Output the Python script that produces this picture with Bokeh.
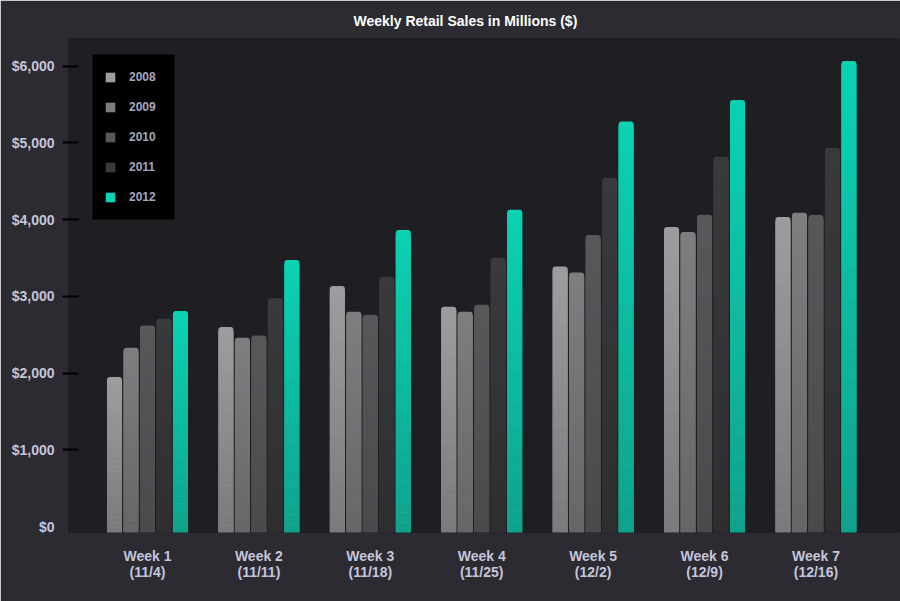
import numpy as np
from bokeh.plotting import figure
from bokeh.models import (FixedTicker, NumeralTickFormatter, Legend, LegendItem,
                          BoxAnnotation, ColumnDataSource, Range1d)
from bokeh.embed import file_html
from bokeh.resources import INLINE

# ---- data ----
week_labels = ["Week 1\n(11/4)", "Week 2\n(11/11)", "Week 3\n(11/18)", "Week 4\n(11/25)",
               "Week 5\n(12/2)", "Week 6\n(12/9)", "Week 7\n(12/16)"]
years = ["2008", "2009", "2010", "2011", "2012"]
sales_2008 = [1950, 2600, 3135, 2865, 3390, 3905, 4035]
sales_2009 = [2330, 2460, 2800, 2800, 3310, 3840, 4090]
sales_2010 = [2620, 2490, 2760, 2890, 3800, 4065, 4060]
sales_2011 = [2710, 2975, 3255, 3505, 4545, 4820, 4935]
sales_2012 = [2810, 3475, 3865, 4130, 5280, 5560, 6070]
y_ticks = [0, 1000, 2000, 3000, 4000, 5000, 6000]

series = [sales_2008, sales_2009, sales_2010, sales_2011, sales_2012]
top_colors = ["#9d9d9f", "#7e7e80", "#58585b", "#3a3a3d", "#0ad2b2"]
bottom_colors = ["#7a7a7c", "#666668", "#4a4a4d", "#2e2e31", "#10a28b"]

BG = "#2b2b31"
FRAME_BG = "#1f1f23"
TXT = "#c5c5dc"

y_start, y_end = -78, 6362
x_start, x_end = -0.709, 6.759
bar_w = 0.135
stride = 0.148

p = figure(width=900, height=601, output_backend="svg", toolbar_location=None, tools="",
           x_range=Range1d(x_start, x_end), y_range=Range1d(y_start, y_end),
           min_border_left=68, min_border_right=0, min_border_top=38, min_border_bottom=69,
           title="Weekly Retail Sales in Millions ($)")
p.background_fill_color = FRAME_BG
p.border_fill_color = BG
p.outline_line_color = FRAME_BG
p.outline_line_width = 1
p.xgrid.grid_line_color = None
p.ygrid.grid_line_color = None

p.title.align = "left"
p.title.offset = 285
p.title.text_font = "Liberation Sans"
p.title.text_font_style = "bold"
p.title.text_font_size = "14px"
p.title.text_color = "#ffffff"
p.title.standoff = 19


def hex2rgb(h):
    h = h.lstrip("#")
    return np.array([int(h[i:i + 2], 16) for i in (0, 2, 4)], dtype=float)


def rgb2hex(c):
    return "#%02x%02x%02x" % tuple(int(round(v)) for v in c)


N = 30
top_eps = 52  # keep rounded top of base bar visible
legend_items = []
for si, (vals, tc, bc, yr) in enumerate(zip(series, top_colors, bottom_colors, years)):
    xs = [i + (si - 2) * stride for i in range(len(vals))]
    src = ColumnDataSource(dict(x=xs, top=vals))
    r = p.vbar(x="x", top="top", bottom=y_start, width=bar_w, source=src,
               fill_color=tc, line_color=None, border_radius=(3, 3, 0, 0))
    legend_items.append(LegendItem(label=yr, renderers=[r]))
    # gradient slices
    t_rgb, b_rgb = hex2rgb(tc), hex2rgb(bc)
    L, R, T, B, C = [], [], [], [], []
    for x, v in zip(xs, vals):
        edges = np.linspace(y_start, v - top_eps, N + 1)
        for k in range(N):
            f = (k + 0.5) / N
            L.append(x - bar_w / 2)
            R.append(x + bar_w / 2)
            B.append(edges[k])
            T.append(edges[k + 1] + 1)
            C.append(rgb2hex(b_rgb + (t_rgb - b_rgb) * f))
    p.quad(left=L, right=R, top=T, bottom=B, fill_color=C, line_color=None)

# legend box (black background)
legend_box = BoxAnnotation(left=24, right=106, top=478, bottom=313,
                           left_units="screen", right_units="screen",
                           top_units="screen", bottom_units="screen",
                           fill_color="#000000", fill_alpha=1.0, line_color=None,
                           level="annotation")
p.add_layout(legend_box)

legend = Legend(items=legend_items, location=(36, 328), orientation="vertical",
                background_fill_alpha=0.0,
                border_line_color=None, padding=0, spacing=16, margin=0,
                glyph_width=12, glyph_height=12, label_height=12, label_standoff=13,
                label_text_font="Liberation Sans", label_text_font_style="bold",
                label_text_font_size="12px", label_text_color="#a6a6be")
p.add_layout(legend)

# axes
xa = p.xaxis[0]
xa.ticker = FixedTicker(ticks=list(range(len(week_labels))))
xa.major_label_overrides = {i: lab for i, lab in enumerate(week_labels)}
xa.axis_line_color = None
xa.major_tick_line_color = None
xa.minor_tick_line_color = None
xa.major_tick_out = 0
xa.major_label_standoff = 15
xa.major_label_text_font = "Liberation Sans"
xa.major_label_text_font_style = "bold"
xa.major_label_text_font_size = "14px"
xa.major_label_text_line_height = 1.05
xa.major_label_text_color = TXT

ya = p.yaxis[0]
ya.ticker = FixedTicker(ticks=y_ticks, minor_ticks=y_ticks[1:])
ya.formatter = NumeralTickFormatter(format="$0,0")
ya.axis_line_color = None
ya.major_tick_line_color = None
ya.major_tick_out = 6
ya.major_tick_in = 0
ya.minor_tick_line_color = "#000000"
ya.minor_tick_line_width = 2
ya.minor_tick_out = 6
ya.minor_tick_in = 10
ya.major_label_standoff = 8
ya.major_label_text_font = "Liberation Sans"
ya.major_label_text_font_style = "bold"
ya.major_label_text_font_size = "14px"
ya.major_label_text_color = TXT

open("out.html", "w").write(file_html(p, INLINE))
